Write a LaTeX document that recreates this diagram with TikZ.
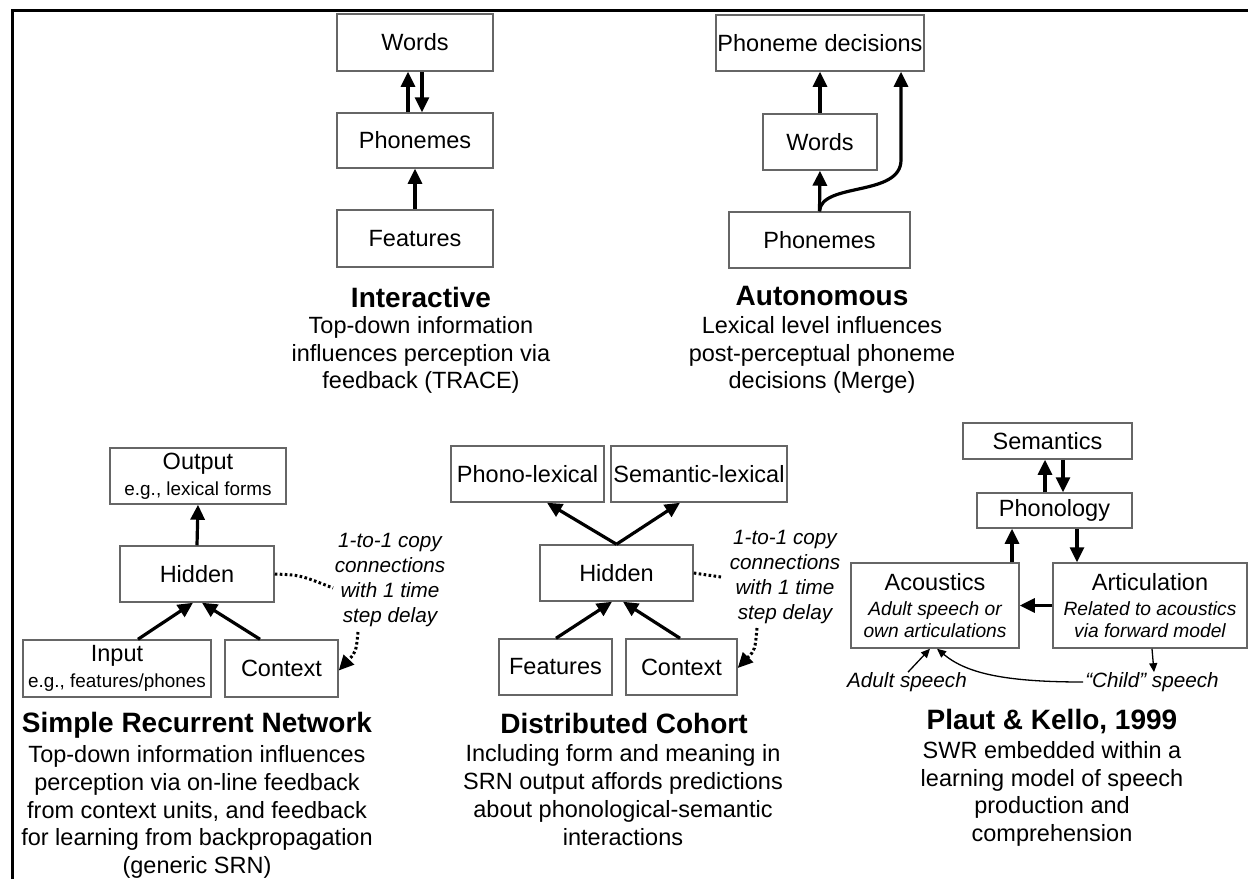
\documentclass[tikz,border=0pt]{standalone}
\usepackage{fontspec}
\setmainfont{Liberation Sans}
\usetikzlibrary{arrows.meta,calc}
\newcommand{\fLab}{\fontsize{23.5}{27.8}\selectfont}
\newcommand{\fTit}{\fontsize{28}{32}\selectfont\bfseries}
\newcommand{\fSm}{\fontsize{18.9}{22}\selectfont}
\newcommand{\fNote}{\fontsize{20.7}{25.3}\selectfont\itshape}
\newcommand{\fIt}{\fontsize{19.2}{22}\selectfont\itshape}
\begin{document}
\begin{tikzpicture}[x=1pt,y=-1pt,
 box/.style={draw=black!60, line width=1.5pt, fill=white, inner sep=0pt, align=center, font=\fLab},
 arr/.style={line width=3.2pt, -{Triangle[length=15pt,width=14pt]}},
 thinarr/.style={line width=1.3pt, -{Triangle[length=9pt,width=8pt]}},
 dotarr/.style={line width=3pt, dash pattern=on 2.6pt off 2.4pt, -{Triangle[length=15pt,width=14pt]}},
 dotl/.style={line width=3pt, dash pattern=on 2.6pt off 2.4pt},
 ttl/.style={font=\fTit, inner sep=0pt},
 desc/.style={font=\fLab, align=center, inner sep=0pt},
 note/.style={font=\fNote, align=center, inner sep=0pt},
]
\useasboundingbox (0,0) rectangle (1248,879);
\fill[white] (0,0) rectangle (1248,879);
\draw[line width=3pt] (12,879) -- (12,10) -- (1248,10);

% Interactive
\node[box,minimum width=156,minimum height=57] (iw) at (415,42.5) {Words};
\node[box,minimum width=156,minimum height=55] (ip) at (415,140.5) {Phonemes};
\node[box,minimum width=156,minimum height=57] (if) at (415,238.5) {Features};
\draw[arr] ([xshift=-7]ip.north) -- ([xshift=-7]iw.south);
\draw[arr] ([xshift=7]iw.south) -- ([xshift=7]ip.north);
\draw[arr] (if.north) -- (ip.south);
\node[ttl] (it) at (421,297) {Interactive};
\node[desc] (id) at (421,355) {Top-down information\\influences perception via\\feedback (TRACE)};

% Autonomous
\node[box,minimum width=208,minimum height=56] (apd) at (820,43) {Phoneme decisions};
\node[box,minimum width=114,minimum height=56] (aw) at (820,142) {Words};
\node[box,minimum width=181,minimum height=56] (ap) at (819.5,240) {Phonemes};
\draw[arr] (aw.north) -- (apd.south);
\draw[arr] (ap.north) -- (aw.south);
\coordinate (ac) at (901,160);
\draw[arr] (ap.north) .. controls (821,182) and (901,197) .. (ac) -- (ac |- apd.south);
\node[ttl] (at) at (822,296) {Autonomous};
\node[desc] (ad) at (822,355) {Lexical level influences\\post-perceptual phoneme\\decisions (Merge)};

% Simple Recurrent Network
\node[box,minimum width=176,minimum height=56] (so) at (198,476) {Output\\[-2pt]{\fSm e.g., lexical forms}};
\node[box,minimum width=154,minimum height=56] (sh) at (197,574) {Hidden};
\node[box,minimum width=188,minimum height=57] (si) at (117,668.5) {Input\\[-2pt]{\fSm e.g., features/phones}};
\node[box,minimum width=113,minimum height=57] (sc) at (281.5,668.5) {Context};
\draw[arr] (sh.north) -- (so.south);
\draw[arr] ([xshift=21]si.north) -- ([xshift=-4]sh.south);
\draw[arr] ([xshift=-21.5]sc.north) -- ([xshift=5]sh.south);
\node[note] (sn) at (390,580) {1-to-1 copy\\connections\\with 1 time\\step delay};
\coordinate (s1) at (333,588);
\coordinate (s2) at (358,632);
\draw[dotl] (sh.east) .. controls (300,575) .. (s1);
\draw[dotarr] (s2) .. controls (356,652) .. ([yshift=-2]sc.east);
\node[ttl] (st) at (197,725) {Simple Recurrent Network};
\node[desc] (sd) at (197,812) {Top-down information influences\\perception via on-line feedback\\from context units, and feedback\\for learning from backpropagation\\(generic SRN)};

% Distributed Cohort
\node[box,minimum width=153,minimum height=56] (dp) at (527.5,474) {Phono-lexical};
\node[box,minimum width=176,minimum height=56] (ds) at (699,474) {Semantic-lexical};
\node[box,minimum width=153,minimum height=56] (dh) at (616.5,573) {Hidden};
\node[box,minimum width=113,minimum height=56] (df) at (555.5,667) {Features};
\node[box,minimum width=111,minimum height=56] (dc) at (681.5,667) {Context};
\draw[arr] (dh.north) -- ([xshift=19.5]dp.south);
\draw[arr] (dh.north) -- ([xshift=-19]ds.south);
\draw[arr] ([xshift=0.5]df.north) -- ([xshift=-4.5]dh.south);
\draw[arr] ([xshift=-1.5]dc.north) -- ([xshift=6.5]dh.south);
\node[note] (dn) at (785,577) {1-to-1 copy\\connections\\with 1 time\\step delay};
\coordinate (d1) at (721,577);
\coordinate (d2) at (757,628);
\draw[dotl] (dh.east) -- (d1);
\draw[dotarr] (d2) .. controls (755,650) .. ([yshift=-1]dc.east);
\node[ttl] (dt) at (624,723) {Distributed Cohort};
\node[desc] (dd) at (623,795) {Including form and meaning in\\SRN output affords predictions\\about phonological-semantic\\interactions};

% Plaut & Kello
\node[box,minimum width=169,minimum height=36] (ps) at (1047.5,441) {Semantics};
\node[box,minimum width=155,minimum height=35] (pp) at (1054.5,510.5) {Phonology};
\node[box,minimum width=168,minimum height=85] (pa) at (935,605.5) {Acoustics\\[-2.5pt]{\fIt Adult speech or}\\[-5.5pt]{\fIt own articulations}};
\node[box,minimum width=194,minimum height=85] (pr) at (1150,605.5) {Articulation\\[-2.5pt]{\fIt Related to acoustics}\\[-5.5pt]{\fIt via forward model}};
\draw[arr] ([xshift=-9.5]pp.north) -- ([xshift=-2.5]ps.south);
\draw[arr] ([xshift=15.5]ps.south) -- ([xshift=8.5]pp.north);
\draw[arr] ([xshift=77]pa.north) -- ([xshift=-42.5]pp.south);
\draw[arr] ([xshift=22.5]pp.south) -- ([xshift=-73]pr.north);
\draw[arr] (pr.west) -- (pa.east);
\node[note] (pas) at (907,682) {Adult speech};
\node[note] (pcs) at (1152,682) {“Child” speech};
\draw[thinarr] ([xshift=1]pas.north) -- ([xshift=-5]pa.south);
\draw[thinarr] ([xshift=2]pr.south) -- ([xshift=2]pcs.north);
\draw[thinarr] ([xshift=-2]pcs.west) .. controls (1000,682) and (965,672) .. ([xshift=2]pa.south);
\node[ttl] (pt) at (1052,722) {Plaut \& Kello, 1999};
\node[desc] (pd) at (1052,794) {SWR embedded within a\\learning model of speech\\production and\\comprehension};
\end{tikzpicture}
\end{document}
